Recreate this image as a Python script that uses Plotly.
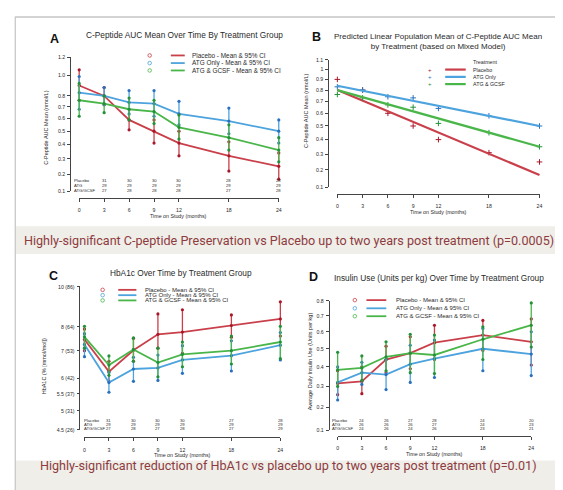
import math
import plotly.graph_objects as go

W, H = 563, 490
def X(px): return px / W
def Y(py): return 1 - py / H
def f(v): return math.log10(v + 1)

months = [0, 3, 6, 9, 12, 18, 24]
table_months = [3, 6, 9, 12, 18, 24]
table_labels = ["Placebo", "ATG", "ATG/GCSF"]

# ---------- Panel A: C-peptide AUC mean (nmol/L), mean & 95% CI ----------
a_pl_mean = [0.90, 0.80, 0.59, 0.50, 0.41, 0.32, 0.25]
a_pl_lo   = [0.76, 0.72, 0.51, 0.41, 0.32, 0.22, 0.17]
a_pl_hi   = [1.06, 0.88, 0.68, 0.59, 0.50, 0.42, 0.34]
a_atg_mean = [0.83, 0.80, 0.74, 0.73, 0.64, 0.58, 0.50]
a_atg_lo   = [0.68, 0.72, 0.64, 0.62, 0.55, 0.48, 0.41]
a_atg_hi   = [0.99, 0.88, 0.85, 0.85, 0.75, 0.69, 0.59]
a_gc_mean = [0.76, 0.73, 0.68, 0.66, 0.53, 0.45, 0.36]
a_gc_lo   = [0.62, 0.65, 0.59, 0.56, 0.44, 0.36, 0.28]
a_gc_hi   = [0.92, 0.80, 0.78, 0.76, 0.63, 0.55, 0.45]
a_n_pl  = [31, 30, 30, 30, 28, 28]
a_n_atg = [29, 29, 29, 29, 29, 29]
a_n_gc  = [27, 28, 28, 28, 27, 28]

# ---------- Panel B: observed means and predicted linear population mean ----------
b_obs_pl  = [0.90, 0.80, 0.60, 0.50, 0.40, 0.31, 0.25]
b_obs_atg = [0.83, 0.80, 0.74, 0.73, 0.64, 0.58, 0.50]
b_obs_gc  = [0.76, 0.73, 0.67, 0.65, 0.52, 0.45, 0.35]
pred_months = [0, 24]
b_pred_pl  = [0.80, 0.17]
b_pred_atg = [0.84, 0.50]
b_pred_gc  = [0.80, 0.35]

# ---------- Panel C: HbA1c (%), mean & 95% CI ----------
c_pl_mean = [7.45, 6.23, 7.02, 7.67, 7.77, 8.06, 8.36]
c_pl_lo   = [7.00, 5.90, 6.60, 7.10, 6.90, 7.55, 7.60]
c_pl_hi   = [7.90, 6.60, 7.50, 8.60, 8.80, 8.55, 9.20]
c_atg_mean = [7.25, 5.86, 6.32, 6.36, 6.65, 6.81, 7.22]
c_atg_lo   = [6.77, 5.55, 5.90, 5.93, 6.17, 6.25, 6.65]
c_atg_hi   = [7.70, 6.20, 6.75, 6.83, 7.20, 7.40, 7.75]
c_gc_mean = [7.56, 6.46, 7.05, 6.55, 6.86, 7.00, 7.35]
c_gc_lo   = [7.10, 6.10, 6.60, 6.05, 6.40, 6.50, 6.70]
c_gc_hi   = [8.02, 6.80, 7.52, 7.10, 7.35, 7.60, 8.02]
c_n_pl  = [31, 30, 30, 30, 27, 28]
c_n_atg = [29, 29, 29, 29, 29, 29]
c_n_gc  = [27, 28, 27, 28, 27, 29]

# ---------- Panel D: insulin use (units/kg), mean & 95% CI ----------
d_pl_mean = [0.315, 0.325, 0.44, 0.475, 0.535, 0.58, 0.54]
d_pl_lo   = [0.26, 0.265, 0.37, 0.39, 0.44, 0.49, 0.41]
d_pl_hi   = [0.38, 0.40, 0.515, 0.57, 0.64, 0.67, 0.68]
d_atg_mean = [0.32, 0.37, 0.36, 0.415, 0.445, 0.50, 0.47]
d_atg_lo   = [0.235, 0.31, 0.285, 0.32, 0.345, 0.38, 0.355]
d_atg_hi   = [0.40, 0.425, 0.44, 0.52, 0.55, 0.62, 0.60]
d_gc_mean = [0.385, 0.395, 0.455, 0.475, 0.465, 0.555, 0.64]
d_gc_lo   = [0.30, 0.33, 0.38, 0.37, 0.365, 0.44, 0.51]
d_gc_hi   = [0.48, 0.46, 0.54, 0.585, 0.58, 0.63, 0.785]
d_n_pl  = [24, 26, 27, 28, 24, 20]
d_n_atg = [26, 26, 26, 27, 24, 23]
d_n_gc  = [24, 26, 24, 26, 23, 21]

a_ticks = [0.1, 0.2, 0.3, 0.4, 0.5, 0.6, 0.7, 0.8, 1.0, 1.2]
a_ticktext = ["0.1", "0.2", "0.3", "0.4", "0.5", "0.6", "0.7", "0.8", "1.0", "1.2"]
b_ticks = [0.1, 0.2, 0.3, 0.4, 0.5, 0.6, 0.7, 0.8, 0.9, 1.0, 1.1]
b_ticktext = ["0.1", "0.2", "0.3", "0.4", "0.5", "0.6", "0.7", "0.8", "0.9", "1", "1.1"]
c_ticks = [4.5, 5, 5.5, 6, 7, 8, 10]
c_ticktext = ["4.5 (26)", "5 (31)", "5.5 (37)", "6 (42)", "7 (53)", "8 (64)", "10 (86)"]
d_ticks = [0.1, 0.2, 0.3, 0.4, 0.5, 0.6, 0.7, 0.8]
d_ticktext = ["0.1", "0.2", "0.3", "0.4", "0.5", "0.6", "0.7", "0.8"]

RED, BLUE, GREEN = "#c9404b", "#4ca3dd", "#4ab64a"
RED_D, BLUE_D, GREEN_D = "#a8182a", "#2a70bd", "#23913a"
TXT = "#2a2a2a"
FONT = "Liberation Sans, Arial, sans-serif"

fig = go.Figure()
layout_axes = {}
annotations = []
shapes = []

def text(x, y, s, size, color=TXT, xanchor="center", yanchor="middle", angle=0, bold=False):
    annotations.append(dict(
        x=X(x), y=Y(y), xref="paper", yref="paper", text=("<b>%s</b>" % s) if bold else s,
        showarrow=False, xanchor=xanchor, yanchor=yanchor, textangle=angle,
        font=dict(family=FONT, size=size, color=color)))

def setup_panel(i, spine_x, ytop, ybot, x0, x24, xline, yrng, ytype, tickv, tickt, ext=6):
    k = (x24 - x0) / 24.0
    layout_axes["xaxis%d" % i] = dict(
        domain=[X(x0 - ext), X(x24 + ext)], range=[-ext / k, 24 + ext / k],
        anchor="y%d" % i, visible=False, showgrid=False, zeroline=False)
    layout_axes["yaxis%d" % i] = dict(
        domain=[Y(ybot), Y(ytop)], range=yrng, type=ytype, anchor="free",
        position=X(spine_x), showline=True, linecolor="#444", linewidth=0.8,
        ticks="outside", ticklen=3, tickwidth=0.8, tickcolor="#444",
        tickvals=tickv, ticktext=tickt, showgrid=False, zeroline=False,
        tickfont=dict(family=FONT, size=5.2, color=TXT), ticklabelstandoff=1)
    layout_axes["xaxis%d" % (i + 4)] = dict(
        domain=[X(x0), X(x24)], range=[0, 24], anchor="free", position=Y(xline),
        showline=True, linecolor="#444", linewidth=0.8, ticks="outside", ticklen=3,
        tickwidth=0.8, tickcolor="#444", tickvals=months, showgrid=False, zeroline=False,
        tickfont=dict(family=FONT, size=5.2, color=TXT), ticklabelstandoff=4)
    fig.add_trace(go.Scatter(x=[None], y=[None], xaxis="x%d" % (i + 4), yaxis="y%d" % i,
                             showlegend=False, hoverinfo="skip"))
    text((x0 + x24) / 2, xline + 18, "Time on Study (months)", 5.3)

def ci_group(i, mean, lo, hi, color, dark, T):
    ym = [T(v) for v in mean]
    yl = [T(v) for v in lo]
    yh = [T(v) for v in hi]
    fig.add_trace(go.Scatter(
        x=months, y=ym, mode="lines", line=dict(color=color, width=1.8),
        error_y=dict(type="data", symmetric=False,
                     array=[h - m for h, m in zip(yh, ym)],
                     arrayminus=[m - l for m, l in zip(ym, yl)],
                     color=color, thickness=1.3, width=0),
        xaxis="x%d" % i, yaxis="y%d" % i, showlegend=False, hoverinfo="skip"))
    fig.add_trace(go.Scatter(
        x=months + months + months, y=yl + yh + ym, mode="markers",
        marker=dict(size=3.2, color=dark), cliponaxis=False,
        xaxis="x%d" % i, yaxis="y%d" % i, showlegend=False, hoverinfo="skip"))

def n_table(x_label, x0, x24, rows_y, n_lists):
    k = (x24 - x0) / 24.0
    for lab, ry in zip(table_labels, rows_y):
        text(x_label, ry, lab, 4.2, xanchor="left")
    for ns, ry in zip(n_lists, rows_y):
        for m, n in zip(table_months, ns):
            text(x0 + m * k, ry, str(n), 4.2)

def ci_legend(cx, lx0, lx1, tx, rows_y, size):
    labels = ["Placebo - Mean & 95% CI", "ATG Only - Mean & 95% CI", "ATG & GCSF - Mean & 95% CI"]
    for lab, ry, col in zip(labels, rows_y, [RED, BLUE, GREEN]):
        r = 1.8
        shapes.append(dict(type="circle", xref="paper", yref="paper",
                           x0=X(cx - r), x1=X(cx + r), y0=Y(ry + r), y1=Y(ry - r),
                           line=dict(color=col, width=0.8)))
        shapes.append(dict(type="line", xref="paper", yref="paper",
                           x0=X(lx0), x1=X(lx1), y0=Y(ry), y1=Y(ry),
                           line=dict(color=col, width=1.8)))
        text(tx, ry, lab, size, xanchor="left")

# ---- Panel A ----
A = dict(spine_x=61.5, ytop=46.7, ybot=182.3, x0=70.7, x24=271.7, xline=189.3)
setup_panel(1, A["spine_x"], A["ytop"], A["ybot"], A["x0"], A["x24"], A["xline"],
            [f(0.1), f(1.2)], "linear", [f(v) for v in a_ticks], a_ticktext)
ci_group(1, a_pl_mean, a_pl_lo, a_pl_hi, RED, RED_D, f)
ci_group(1, a_atg_mean, a_atg_lo, a_atg_hi, BLUE, BLUE_D, f)
ci_group(1, a_gc_mean, a_gc_lo, a_gc_hi, GREEN, GREEN_D, f)
n_table(63, A["x0"], A["x24"], [171.5, 176.5, 181.5], [a_n_pl, a_n_atg, a_n_gc])
ci_legend(141.7, 163, 177, 182.7, [45, 52.7, 60.2], 6.4)
text(46, 28, "A", 12.5, bold=True, color="#111")
text(176.7, 24, "C-Peptide AUC Mean Over Time By Treatment Group", 8.3)
text(36.5, 118, "C-Peptide AUC Mean (nmol/L)", 5.5, angle=-90)

# ---- Panel B ----
B = dict(spine_x=321.5, ytop=49.3, ybot=178.3, x0=330.7, x24=534.3, xline=185)
setup_panel(2, B["spine_x"], B["ytop"], B["ybot"], B["x0"], B["x24"], B["xline"],
            [f(0.1), f(1.1)], "linear", [f(v) for v in b_ticks], b_ticktext)
for pred, obs, col, dark in [(b_pred_pl, b_obs_pl, RED, RED_D),
                             (b_pred_atg, b_obs_atg, BLUE, BLUE_D),
                             (b_pred_gc, b_obs_gc, GREEN, GREEN_D)]:
    fig.add_trace(go.Scatter(x=months, y=[f(v) for v in obs], mode="markers",
                             marker=dict(symbol="cross-thin", size=4, line=dict(width=1, color=dark)),
                             cliponaxis=False, xaxis="x2", yaxis="y2", showlegend=False, hoverinfo="skip"))
    fig.add_trace(go.Scatter(x=pred_months, y=[f(v) for v in pred], mode="lines",
                             line=dict(color=col, width=2.2), xaxis="x2", yaxis="y2",
                             showlegend=False, hoverinfo="skip"))
text(309.3, 26, "B", 12.5, bold=True, color="#111")
text(432.5, 31, "Predicted Linear Population Mean of C-Peptide AUC Mean<br>by Treatment (based on Mixed Model)", 8.0)
text(299.3, 101, "C-Peptide AUC Mean (nmol/L)", 5.5, angle=-90)
text(465, 51.7, "Treatment", 5.3, xanchor="left")
for lab, ry, col, dark in zip(["Placebo", "ATG Only", "ATG & GCSF"], [59.3, 66.7, 74.0],
                              [RED, BLUE, GREEN], [RED_D, BLUE_D, GREEN_D]):
    text(424, ry, "+", 6, color=dark)
    shapes.append(dict(type="line", xref="paper", yref="paper", x0=X(439.3), x1=X(460),
                       y0=Y(ry), y1=Y(ry), line=dict(color=col, width=2.2)))
    text(465, ry, lab, 5.3, xanchor="left")

# ---- Panel C ----
C = dict(spine_x=71, ytop=279.3, ybot=424, x0=76, x24=273.3, xline=431.7)
setup_panel(3, C["spine_x"], C["ytop"], C["ybot"], C["x0"], C["x24"], C["xline"],
            [math.log10(4.5), 1.0], "log", c_ticks, c_ticktext)
ident = lambda v: v
ci_group(3, c_pl_mean, c_pl_lo, c_pl_hi, RED, RED_D, ident)
ci_group(3, c_atg_mean, c_atg_lo, c_atg_hi, BLUE, BLUE_D, ident)
ci_group(3, c_gc_mean, c_gc_lo, c_gc_hi, GREEN, GREEN_D, ident)
n_table(74, C["x0"], C["x24"], [414.3, 418.6, 423.0], [c_n_pl, c_n_atg, c_n_gc])
ci_legend(94.3, 110, 128.3, 135, [282.3, 287.7, 293.0], 6.0)
text(45, 268.5, "C", 12.5, bold=True, color="#111")
text(173, 265, "HbA1c Over Time by Treatment Group", 8.3)
text(35, 360, "HbA1C (% [mmol/mol])", 5.5, angle=-90)

# ---- Panel D ----
D = dict(spine_x=322, ytop=293.3, ybot=424.7, x0=331, x24=526, xline=430)
setup_panel(4, D["spine_x"], D["ytop"], D["ybot"], D["x0"], D["x24"], D["xline"],
            [f(0.1), f(0.8)], "linear", [f(v) for v in d_ticks], d_ticktext)
ci_group(4, d_pl_mean, d_pl_lo, d_pl_hi, RED, RED_D, f)
ci_group(4, d_atg_mean, d_atg_lo, d_atg_hi, BLUE, BLUE_D, f)
ci_group(4, d_gc_mean, d_gc_lo, d_gc_hi, GREEN, GREEN_D, f)
n_table(323.3, D["x0"], D["x24"], [414.3, 418.6, 423.0], [d_n_pl, d_n_atg, d_n_gc])
ci_legend(348.3, 360, 380, 387.3, [292.7, 301.0, 309.0], 6.0)
text(307, 269.5, "D", 12.5, bold=True, color="#111")
text(433, 270.7, "Insulin Use (Units per kg) Over Time by Treatment Group", 8.3)
text(302.7, 355, "Average Daily Insulin Use (Units per kg)", 5.5, angle=-90)

# ---- frame and banners ----
BAN_BG = "#efeee9"
BAN_TXT = "#8e3b40"
BAN_FONT = "Roboto, sans-serif"
shapes.append(dict(type="rect", xref="paper", yref="paper", x0=X(6.5), x1=1, y0=Y(246), y1=Y(218),
                   fillcolor=BAN_BG, line=dict(width=0), layer="below"))
shapes.append(dict(type="rect", xref="paper", yref="paper", x0=X(6.5), x1=1, y0=Y(487), y1=Y(455),
                   fillcolor=BAN_BG, line=dict(width=0), layer="below"))
shapes.append(dict(type="line", xref="paper", yref="paper", x0=X(6), x1=1, y0=Y(6), y1=Y(6),
                   line=dict(color="#c4c4c4", width=1.5)))
shapes.append(dict(type="line", xref="paper", yref="paper", x0=X(6.3), x1=X(6.3), y0=Y(6), y1=0,
                   line=dict(color="#c4c4c4", width=1.2)))
annotations.append(dict(x=X(282), y=Y(232), xref="paper", yref="paper", showarrow=False,
                        text="Highly-significant C-peptide Preservation vs Placebo up to two years post treatment (p=0.0005)",
                        font=dict(family=BAN_FONT, size=12.6, color=BAN_TXT)))
annotations.append(dict(x=X(282), y=Y(470), xref="paper", yref="paper", showarrow=False,
                        text="Highly-significant reduction of HbA1c vs placebo up to two years post treatment (p=0.01)",
                        font=dict(family=BAN_FONT, size=12.6, color=BAN_TXT)))

fig.update_layout(width=W, height=H, autosize=False, margin=dict(l=0, r=0, t=0, b=0),
                  paper_bgcolor="white", plot_bgcolor="rgba(0,0,0,0)", showlegend=False,
                  annotations=annotations, shapes=shapes, **layout_axes)
fig.write_html("out.html")
